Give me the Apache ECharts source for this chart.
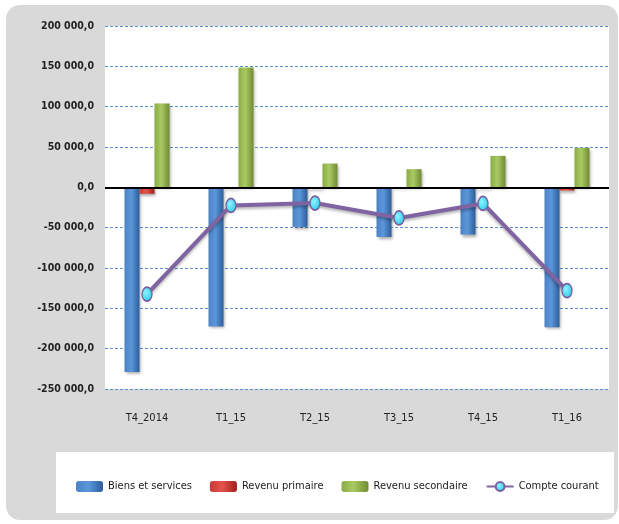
<!DOCTYPE html>
<html>
<head>
<meta charset="utf-8">
<script src="https://cdn.jsdelivr.net/npm/echarts@6/dist/echarts.min.js"></script>
<style>html,body{margin:0;padding:0;background:#fff}#c{width:619px;height:524px}</style>
</head>
<body>
<div id="c"></div>
<script>
const categories = ['T4_2014', 'T1_15', 'T2_15', 'T3_15', 'T4_15', 'T1_16'];
const biensServices = [-229000, -172500, -49000, -61500, -58500, -173500];
const revenuPrimaire = [-8000, -1500, -2000, -1000, -1500, -4000];
const revenuSecondaire = [104000, 148500, 29500, 22500, 39000, 49000];
const compteCourant = [-132500, -22500, -19500, -38000, -20000, -128000];
const yTicks = { min: -250000, max: 200000, interval: 50000 };

const FONT = '"DejaVu Sans Condensed", "DejaVu Sans", sans-serif';

function fmt(v) {
  const s = Math.abs(v).toString().replace(/\B(?=(\d{3})+(?!\d))/g, ' ');
  return (v < 0 ? '-' : '') + s + ',0';
}
function hgrad(a, b, c) {
  return new echarts.graphic.LinearGradient(0, 0, 1, 0, [
    { offset: 0, color: a }, { offset: 0.45, color: b }, { offset: 1, color: c }
  ]);
}
const barShadow = { shadowBlur: 3, shadowColor: 'rgba(0,0,0,0.35)', shadowOffsetX: 1, shadowOffsetY: 2 };

const chart = echarts.init(document.getElementById('c'), null, { renderer: 'canvas' });
chart.setOption({
  animation: false,
  backgroundColor: '#ffffff',
  graphic: [
    { type: 'rect', z: -10, shape: { x: 6, y: 5, width: 612, height: 515, r: 14 }, style: { fill: '#d9d9d9' } },
    { type: 'rect', z: -9, shape: { x: 56, y: 452, width: 558, height: 61 }, style: { fill: '#ffffff' } }
  ],
  grid: { left: 105, right: 10, top: 26, bottom: 135, show: true, backgroundColor: '#ffffff', borderWidth: 0 },
  legend: {
    left: 76, top: 481, padding: 0, itemWidth: 27, itemHeight: 11, itemGap: 18,
    textStyle: { fontFamily: FONT, fontSize: 11, color: '#1a1a1a' },
    data: ['Biens et services', 'Revenu primaire', 'Revenu secondaire', 'Compte courant']
  },
  xAxis: {
    type: 'category', data: categories,
    axisLine: { show: false }, axisTick: { show: false },
    axisLabel: { margin: 24, fontFamily: FONT, fontSize: 11, color: '#222' }
  },
  yAxis: {
    type: 'value', min: yTicks.min, max: yTicks.max, interval: yTicks.interval,
    axisLine: { show: false }, axisTick: { show: false },
    axisLabel: { margin: 11, formatter: fmt, fontFamily: FONT, fontSize: 10.5, fontWeight: 'bold', color: '#222' },
    splitLine: { lineStyle: { color: '#5b8fd0', type: [3, 2], width: 1 } }
  },
  series: [
    {
      name: 'Biens et services', type: 'bar', data: biensServices, barWidth: 15, barGap: '0%',
      itemStyle: Object.assign({ color: hgrad('#4c82c4', '#5a97da', '#2d5e9b') }, barShadow),
      markLine: {
        silent: true, symbol: 'none', label: { show: false },
        lineStyle: { color: '#000', width: 2, type: 'solid' },
        data: [{ yAxis: 0 }], z: 5
      }
    },
    {
      name: 'Revenu primaire', type: 'bar', data: revenuPrimaire, barWidth: 15, barGap: '0%',
      itemStyle: Object.assign({ color: hgrad('#c83a36', '#e5524d', '#a01f1c') }, barShadow)
    },
    {
      name: 'Revenu secondaire', type: 'bar', data: revenuSecondaire, barWidth: 15, barGap: '0%',
      itemStyle: Object.assign({ color: hgrad('#8bab45', '#a9c963', '#6f8c31') }, barShadow)
    },
    {
      name: 'Compte courant', type: 'line', data: compteCourant, z: 10,
      symbol: 'circle', symbolSize: [10, 14],
      lineStyle: { color: '#8064a2', width: 4, shadowBlur: 3, shadowColor: 'rgba(0,0,0,0.3)', shadowOffsetY: 2 },
      itemStyle: {
        color: new echarts.graphic.RadialGradient(0.4, 0.4, 0.7, [
          { offset: 0, color: '#8ff3ff' }, { offset: 1, color: '#1bc6e6' }
        ]),
        borderColor: '#7a5ea0', borderWidth: 1.5
      }
    }
  ]
});
</script>
</body>
</html>
